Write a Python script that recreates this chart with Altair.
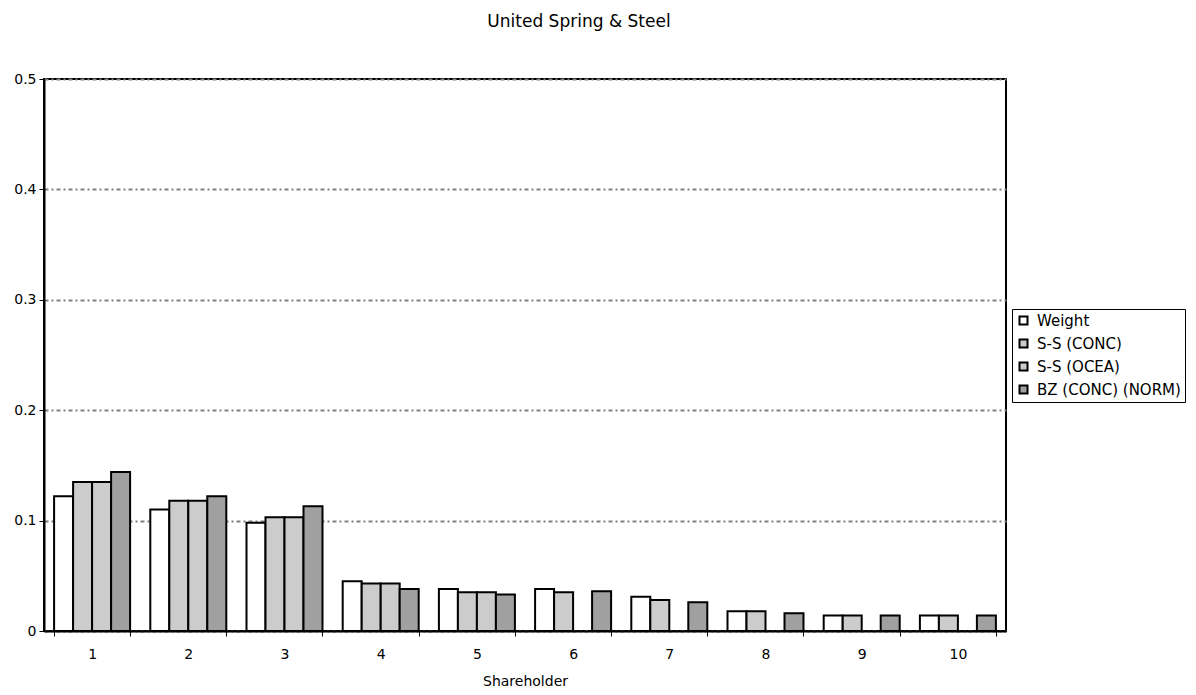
import altair as alt
import pandas as pd

shareholders = ["1", "2", "3", "4", "5", "6", "7", "8", "9", "10"]
series = ["Weight", "S-S (CONC)", "S-S (OCEA)", "BZ (CONC) (NORM)"]
weight = [0.122, 0.110, 0.098, 0.045, 0.038, 0.038, 0.031, 0.018, 0.014, 0.014]
ss_conc = [0.135, 0.118, 0.103, 0.043, 0.035, 0.035, 0.028, 0.018, 0.014, 0.014]
ss_ocea = [0.135, 0.118, 0.103, 0.043, 0.035, None, None, None, None, None]
bz_norm = [0.144, 0.122, 0.113, 0.038, 0.033, 0.036, 0.026, 0.016, 0.014, 0.014]
colors = ["#ffffff", "#cccccc", "#cccccc", "#a0a0a0"]

rows = []
for name, vals in zip(series, [weight, ss_conc, ss_ocea, bz_norm]):
    for s, v in zip(shareholders, vals):
        if v is not None:
            rows.append({"Shareholder": s, "Series": name, "Value": v})
df = pd.DataFrame(rows)

FONT = "DejaVu Sans"

bars = alt.Chart(df).mark_bar(stroke="black", strokeWidth=2).encode(
    x=alt.X("Shareholder:N", sort=shareholders,
            scale=alt.Scale(paddingInner=0.21, paddingOuter=0.105),
            axis=alt.Axis(title="Shareholder", labelAngle=0, tickBand="extent",
                          tickSize=5, tickColor="black", domainColor="black",
                          domainWidth=2, labelFont=FONT, labelFontSize=14,
                          labelColor="black", titleFont=FONT, titleFontSize=14,
                          titleFontWeight="normal", titleColor="black",
                          titlePadding=13, labelPadding=11)),
    xOffset=alt.XOffset("Series:N", sort=series, scale=alt.Scale(domain=series)),
    y=alt.Y("Value:Q", scale=alt.Scale(domain=[0, 0.5]),
            axis=alt.Axis(title=None, values=[0, 0.1, 0.2, 0.3, 0.4, 0.5],
                          format="~g", grid=True, gridColor="#808080",
                          gridDash=[4, 3, 2, 3], gridWidth=2,
                          tickSize=5, tickColor="black", domainColor="black",
                          domainWidth=2, labelFont=FONT, labelFontSize=14,
                          labelColor="black", labelPadding=3)),
    color=alt.Color("Series:N", sort=series,
                    scale=alt.Scale(domain=series, range=colors),
                    legend=alt.Legend(title=None, orient="none", legendX=968,
                                      legendY=230, symbolType="square",
                                      symbolStrokeColor="black",
                                      symbolStrokeWidth=2, symbolSize=64,
                                      labelFont=FONT, labelFontSize=15,
                                      labelColor="black", rowPadding=6,
                                      labelOffset=6,
                                      strokeColor="black", padding=4,
                                      fillColor="white")),
)

chart = bars.properties(
    width=962, height=552,
    padding={"left": 5, "top": 5, "right": 0, "bottom": 0},
    title=alt.Title("United Spring & Steel", font=FONT, fontSize=17,
                    fontWeight="normal", color="black", offset=41,
                    anchor="middle", dx=54),
).configure_view(stroke="black", strokeWidth=2)

chart.save("out.html", embed_options={"renderer": "svg", "actions": False})
